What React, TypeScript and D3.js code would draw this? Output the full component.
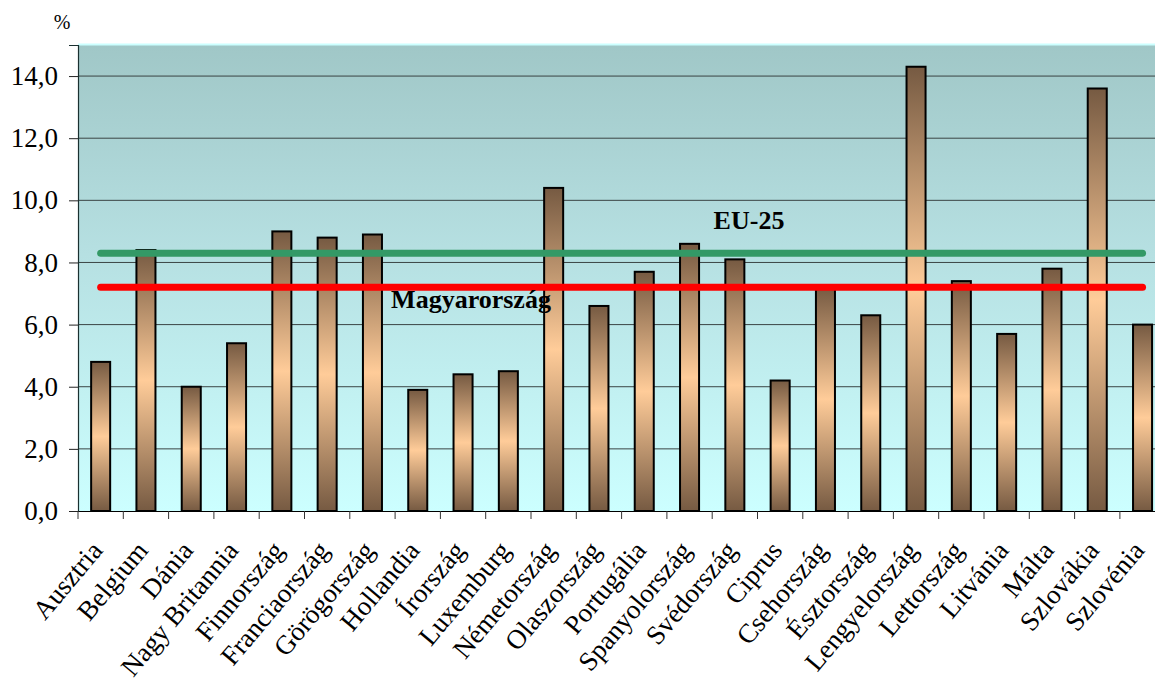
import { useEffect, useRef } from 'react';
import * as d3 from 'd3';

const countries = [
  'Ausztria', 'Belgium', 'Dánia', 'Nagy Britannia', 'Finnország', 'Franciaország',
  'Görögország', 'Hollandia', 'Írország', 'Luxemburg', 'Németország', 'Olaszország',
  'Portugália', 'Spanyolország', 'Svédország', 'Ciprus', 'Csehország', 'Észtország',
  'Lengyelország', 'Lettország', 'Litvánia', 'Málta', 'Szlovákia', 'Szlovénia'
];
const values = [
  4.8, 8.4, 4.0, 5.4, 9.0, 8.8, 8.9, 3.9, 4.4, 4.5, 10.4, 6.6,
  7.7, 8.6, 8.1, 4.2, 7.2, 6.3, 14.3, 7.4, 5.7, 7.8, 13.6, 6.0
];
const eu25 = 8.3;
const hungary = 7.2;
const yTicks = [0, 2, 4, 6, 8, 10, 12, 14];

export default function App() {
  const svgRef = useRef<SVGSVGElement | null>(null);

  useEffect(() => {
    const svg = svgRef.current;
    if (!svg) return;

    const width = 1155;
    const height = 684;
    const left = 78;
    const step = 45.3;
    const top = 45;
    const bottom = 511;
    const font = '"Liberation Serif", "Times New Roman", serif';

    const x = d3
      .scaleBand<string>()
      .domain(countries)
      .range([left, left + step * countries.length])
      .paddingInner(0)
      .paddingOuter(0);
    const y = d3.scaleLinear().domain([0, 15]).range([bottom, top]);
    const barW = x.bandwidth() * 0.42;
    const cx = (c: string) => (x(c) as number) + x.bandwidth() / 2;

    const root = d3.select(svg);
    root.attr('viewBox', `0 0 ${width} ${height}`);
    root.selectAll('*').remove();

    const defs = root.append('defs');
    const bg = defs
      .append('linearGradient')
      .attr('id', 'bg')
      .attr('x1', 0).attr('y1', 0).attr('x2', 0).attr('y2', 1);
    bg.append('stop').attr('offset', 0).attr('stop-color', '#a0c7c7');
    bg.append('stop').attr('offset', 0.45).attr('stop-color', '#b6e0e2');
    bg.append('stop').attr('offset', 1).attr('stop-color', '#ccffff');

    const bar = defs
      .append('linearGradient')
      .attr('id', 'bar')
      .attr('x1', 0).attr('y1', 0).attr('x2', 0).attr('y2', 1);
    bar.append('stop').attr('offset', 0).attr('stop-color', '#765a42');
    bar.append('stop').attr('offset', 0.5).attr('stop-color', '#ffcc99');
    bar.append('stop').attr('offset', 1).attr('stop-color', '#765a42');

    const x1 = left + step * countries.length;

    // plot background
    root
      .append('rect')
      .attr('x', left)
      .attr('y', top)
      .attr('width', x1 - left)
      .attr('height', bottom - top)
      .attr('fill', 'url(#bg)');
    root
      .append('line')
      .attr('x1', left).attr('x2', x1)
      .attr('y1', top - 0.5).attr('y2', top - 0.5)
      .attr('stroke', '#ccffff')
      .attr('stroke-width', 2);

    // gridlines
    root
      .append('g')
      .selectAll('line')
      .data(yTicks.filter((d) => d > 0))
      .join('line')
      .attr('x1', left)
      .attr('x2', x1)
      .attr('y1', (d) => y(d))
      .attr('y2', (d) => y(d))
      .attr('stroke', '#3a4444')
      .attr('stroke-width', 1);

    // y axis
    const ya = root
      .append('g')
      .attr('transform', `translate(${left},0)`)
      .call(d3.axisLeft(y).tickValues(yTicks).tickSize(9).tickPadding(11).tickFormat((d) => d3.format('.1f')(d as number).replace('.', ',')));
    ya.select('.domain').attr('stroke', '#1a3030').attr('stroke-width', 1.2);
    ya.selectAll('line').attr('stroke', '#222');
    ya.selectAll('text')
      .attr('font-family', font)
      .attr('font-size', 27)
      .attr('fill', '#000');

    // bars
    root
      .append('g')
      .selectAll('rect')
      .data(countries)
      .join('rect')
      .attr('x', (c) => cx(c) - barW / 2)
      .attr('y', (c, i) => y(values[i]))
      .attr('width', barW)
      .attr('height', (c, i) => y(0) - y(values[i]))
      .attr('fill', 'url(#bar)')
      .attr('stroke', '#000')
      .attr('stroke-width', 2);

    // x axis
    const xa = root
      .append('g')
      .attr('transform', `translate(0,${bottom})`)
      .call(d3.axisBottom(x).tickSize(0).tickFormat(() => ''));
    xa.select('.domain').attr('stroke', '#000').attr('stroke-width', 1.2);
    xa.selectAll('.tick').remove();
    xa.selectAll('line.sep')
      .data(countries)
      .join('line')
      .attr('class', 'sep')
      .attr('x1', (c) => x(c) as number)
      .attr('x2', (c) => x(c) as number)
      .attr('y1', 0)
      .attr('y2', 8)
      .attr('stroke', '#333');

    // x labels
    root
      .append('g')
      .selectAll('text')
      .data(countries)
      .join('text')
      .attr('transform', (c) => `translate(${cx(c) - 4},${bottom + 34}) rotate(-50)`)
      .attr('text-anchor', 'end')
      .attr('dy', '0.35em')
      .attr('font-family', font)
      .attr('font-size', 27)
      .attr('fill', '#000')
      .text((c) => c);

    // reference lines
    const refLine = d3
      .line<string>()
      .x((c) => cx(c))
      .y(0);
    const refs = [
      { v: eu25, color: '#339966' },
      { v: hungary, color: '#ff0000' }
    ];
    refs.forEach((r) => {
      root
        .append('path')
        .attr('transform', `translate(0,${y(r.v)})`)
        .attr('d', refLine(countries) as string)
        .attr('fill', 'none')
        .attr('stroke', r.color)
        .attr('stroke-width', 7)
        .attr('stroke-linecap', 'round');
    });

    root
      .append('text')
      .attr('x', 749)
      .attr('y', y(eu25) - 24)
      .attr('text-anchor', 'middle')
      .attr('font-family', font)
      .attr('font-weight', 'bold')
      .attr('font-size', 26)
      .text('EU-25');
    root
      .append('text')
      .attr('x', 471)
      .attr('y', y(hungary) + 21)
      .attr('text-anchor', 'middle')
      .attr('font-family', font)
      .attr('font-weight', 'bold')
      .attr('font-size', 26)
      .text('Magyarország');

    root
      .append('text')
      .attr('x', 62)
      .attr('y', 29)
      .attr('text-anchor', 'middle')
      .attr('font-family', font)
      .attr('font-size', 20)
      .text('%');
  }, []);

  return (
    <svg
      ref={svgRef}
      width={1155}
      height={684}
      style={{ position: 'absolute', left: 0, top: 0, background: '#fff' }}
    />
  );
}
